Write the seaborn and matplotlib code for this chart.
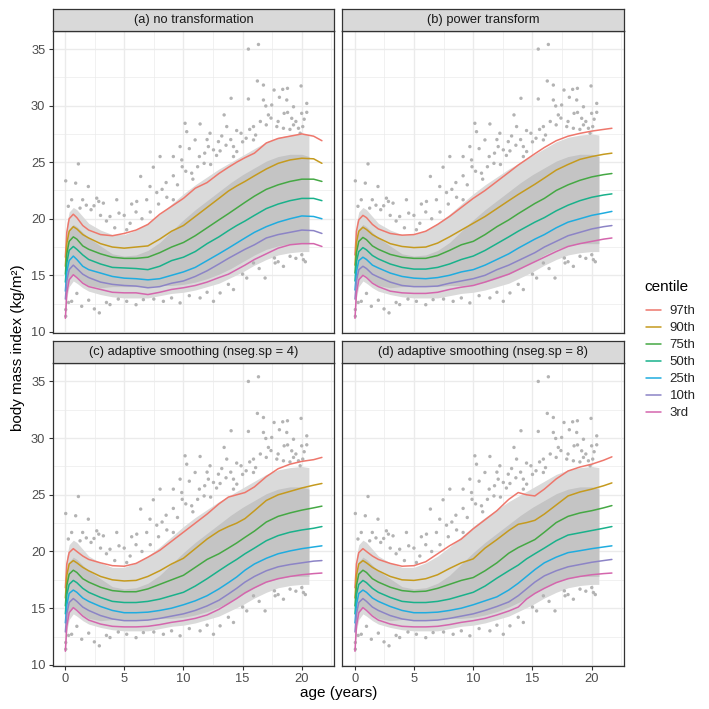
import numpy as np
import pandas as pd
import matplotlib
matplotlib.use('Agg')
import matplotlib.pyplot as plt
import seaborn as sns

ages = [0.03, 0.15, 0.35, 0.7, 1, 1.5, 2, 3, 4, 5, 6, 7, 8, 9, 10, 11, 12, 13,
        13.8, 14.5, 15.2, 16, 17, 18, 19, 20, 21, 21.7]

centiles = ['97th', '90th', '75th', '50th', '25th', '10th', '3rd']
colors = ['#EE776C', '#C59A1E', '#45A844', '#19B18B', '#1FACDF', '#8C84C6', '#D466AD']

panel_titles = ['(a) no transformation', '(b) power transform',
                '(c) adaptive smoothing (nseg.sp = 4)', '(d) adaptive smoothing (nseg.sp = 8)']

# (a) no transformation
c97_a = [16.6, 18.8, 20.0, 20.4, 20.1, 19.4, 19.0, 18.6, 18.5, 18.7, 19.0, 19.5, 20.4, 21.1, 21.8, 22.7, 23.2, 24.0, 24.55, 25.0, 25.4, 25.8, 26.7, 27.1, 27.3, 27.5, 27.3, 26.9]
c90_a = [15.8, 17.8, 18.9, 19.3, 19.1, 18.6, 18.3, 17.8, 17.5, 17.4, 17.5, 17.6, 18.2, 18.9, 19.4, 20.2, 21.0, 21.8, 22.45, 22.9, 23.3, 23.8, 24.4, 24.9, 25.2, 25.35, 25.3, 24.9]
c75_a = [15.1, 16.9, 18.0, 18.4, 18.2, 17.6, 17.3, 16.9, 16.6, 16.5, 16.5, 16.6, 17.0, 17.5, 17.9, 18.5, 19.2, 19.9, 20.45, 20.95, 21.45, 22.0, 22.6, 23.0, 23.3, 23.5, 23.5, 23.3]
c50_a = [14.4, 16.1, 17.2, 17.55, 17.3, 16.8, 16.4, 16.0, 15.7, 15.65, 15.6, 15.5, 15.8, 16.3, 16.6, 17.1, 17.8, 18.4, 18.95, 19.4, 19.8, 20.3, 20.9, 21.3, 21.6, 21.8, 21.8, 21.6]
c25_a = [13.6, 15.3, 16.3, 16.7, 16.4, 15.8, 15.5, 15.2, 14.9, 14.75, 14.7, 14.6, 14.7, 15.0, 15.3, 15.7, 16.3, 16.9, 17.4, 17.85, 18.3, 18.8, 19.3, 19.7, 20.0, 20.25, 20.2, 20.0]
c10_a = [12.9, 14.5, 15.5, 15.9, 15.6, 15.1, 14.8, 14.4, 14.2, 14.1, 14.05, 13.9, 14.0, 14.3, 14.5, 14.9, 15.4, 16.0, 16.5, 16.9, 17.3, 17.7, 18.3, 18.6, 18.8, 19.0, 18.95, 18.7]
c3_a = [11.2, 13.4, 14.6, 15.05, 14.8, 14.3, 14.0, 13.75, 13.5, 13.45, 13.45, 13.3, 13.5, 13.75, 13.9, 14.1, 14.4, 14.8, 15.1, 15.5, 15.9, 16.4, 16.9, 17.4, 17.7, 17.8, 17.8, 17.55]

# (b) power transform
c97_b = [16.8, 18.9, 19.9, 20.3, 20.1, 19.5, 19.1, 18.7, 18.55, 18.6, 18.9, 19.5, 20.2, 21.0, 21.8, 22.5, 23.3, 24.1, 24.75, 25.25, 25.75, 26.3, 26.9, 27.3, 27.55, 27.75, 27.9, 28.0]
c90_b = [15.9, 17.9, 18.9, 19.25, 19.05, 18.6, 18.3, 17.8, 17.55, 17.45, 17.5, 17.85, 18.4, 19.0, 19.6, 20.2, 20.9, 21.6, 22.15, 22.6, 23.05, 23.6, 24.3, 24.8, 25.25, 25.5, 25.7, 25.8]
c75_b = [15.2, 17.0, 18.0, 18.35, 18.15, 17.6, 17.3, 16.85, 16.6, 16.5, 16.5, 16.75, 17.2, 17.7, 18.0, 18.6, 19.3, 19.9, 20.45, 20.9, 21.35, 21.8, 22.5, 23.0, 23.4, 23.7, 23.9, 24.0]
c50_b = [14.5, 16.2, 17.1, 17.45, 17.25, 16.75, 16.45, 16.0, 15.7, 15.55, 15.55, 15.7, 16.0, 16.4, 16.7, 17.2, 17.8, 18.4, 18.9, 19.3, 19.7, 20.1, 20.7, 21.2, 21.6, 21.9, 22.1, 22.2]
c25_b = [13.7, 15.3, 16.3, 16.6, 16.4, 15.9, 15.65, 15.2, 14.9, 14.75, 14.7, 14.8, 15.0, 15.3, 15.5, 15.9, 16.4, 16.9, 17.4, 17.8, 18.2, 18.6, 19.2, 19.7, 20.0, 20.3, 20.5, 20.65]
c10_b = [12.9, 14.5, 15.5, 15.8, 15.6, 15.1, 14.85, 14.4, 14.1, 14.0, 14.0, 14.05, 14.3, 14.5, 14.7, 15.0, 15.5, 15.9, 16.3, 16.65, 17.0, 17.5, 18.0, 18.5, 18.8, 19.1, 19.3, 19.4]
c3_b = [11.2, 13.4, 14.6, 15.0, 14.8, 14.3, 14.0, 13.6, 13.45, 13.4, 13.4, 13.5, 13.75, 13.95, 14.1, 14.4, 14.75, 15.1, 15.5, 15.85, 16.2, 16.6, 17.1, 17.55, 17.8, 18.0, 18.2, 18.3]

# (c) adaptive smoothing, nseg.sp = 4
c97_c = [16.8, 18.9, 19.9, 20.25, 20.0, 19.6, 19.3, 19.0, 18.75, 18.7, 18.95, 19.5, 20.1, 20.9, 21.7, 22.5, 23.3, 24.2, 24.8, 25.0, 25.2, 25.7, 26.6, 27.3, 27.7, 27.95, 28.1, 28.3]
c90_c = [15.9, 17.9, 18.9, 19.2, 19.0, 18.6, 18.3, 17.8, 17.5, 17.4, 17.45, 17.8, 18.3, 18.9, 19.4, 20.25, 21.1, 21.8, 22.2, 22.5, 22.9, 23.6, 24.5, 25.0, 25.3, 25.6, 25.85, 26.0]
c75_c = [15.2, 17.0, 18.0, 18.35, 18.15, 17.6, 17.3, 16.85, 16.55, 16.45, 16.45, 16.7, 17.1, 17.5, 17.9, 18.6, 19.3, 19.8, 20.3, 20.75, 21.25, 21.8, 22.6, 23.1, 23.4, 23.65, 23.85, 24.0]
c50_c = [14.5, 16.2, 17.1, 17.45, 17.25, 16.75, 16.4, 15.95, 15.6, 15.5, 15.5, 15.6, 15.8, 16.1, 16.4, 16.95, 17.6, 18.3, 18.85, 19.3, 19.8, 20.3, 20.95, 21.4, 21.7, 21.9, 22.05, 22.2]
c25_c = [13.7, 15.3, 16.3, 16.6, 16.4, 15.9, 15.6, 15.15, 14.8, 14.6, 14.6, 14.65, 14.8, 15.0, 15.3, 15.65, 16.1, 16.7, 17.25, 17.75, 18.35, 18.9, 19.4, 19.8, 20.05, 20.25, 20.4, 20.5]
c10_c = [12.9, 14.5, 15.5, 15.85, 15.6, 15.1, 14.8, 14.35, 14.05, 13.9, 13.9, 13.95, 14.1, 14.3, 14.5, 14.8, 15.2, 15.7, 16.25, 16.75, 17.3, 17.8, 18.3, 18.65, 18.85, 19.0, 19.15, 19.2]
c3_c = [11.2, 13.4, 14.6, 15.05, 14.8, 14.3, 13.95, 13.6, 13.4, 13.35, 13.35, 13.4, 13.55, 13.75, 13.9, 14.1, 14.4, 14.9, 15.4, 15.85, 16.35, 16.8, 17.3, 17.6, 17.8, 17.95, 18.05, 18.1]

# (d) adaptive smoothing, nseg.sp = 8
c97_d = [16.8, 18.9, 19.9, 20.25, 20.0, 19.6, 19.3, 18.95, 18.7, 18.75, 19.1, 19.8, 20.5, 21.1, 22.0, 22.8, 23.6, 24.6, 25.2, 25.0, 24.9, 25.5, 26.4, 27.1, 27.45, 27.7, 28.05, 28.35]
c90_d = [15.9, 17.9, 18.9, 19.2, 19.0, 18.6, 18.3, 17.8, 17.5, 17.45, 17.6, 17.95, 18.5, 19.0, 19.35, 20.3, 21.05, 21.85, 22.4, 22.55, 22.75, 23.3, 24.1, 24.9, 25.25, 25.5, 25.8, 26.05]
c75_d = [15.2, 17.0, 18.0, 18.35, 18.15, 17.6, 17.3, 16.85, 16.55, 16.45, 16.5, 16.75, 17.1, 17.45, 17.7, 18.3, 19.0, 19.85, 20.35, 20.7, 21.05, 21.7, 22.55, 23.1, 23.4, 23.6, 23.85, 24.05]
c50_d = [14.5, 16.2, 17.1, 17.45, 17.25, 16.75, 16.4, 15.95, 15.6, 15.5, 15.5, 15.6, 15.8, 16.1, 16.4, 16.95, 17.65, 18.3, 18.8, 19.35, 19.8, 20.3, 20.95, 21.45, 21.65, 21.85, 22.05, 22.2]
c25_d = [13.7, 15.3, 16.3, 16.6, 16.4, 15.9, 15.6, 15.15, 14.8, 14.6, 14.6, 14.65, 14.8, 15.0, 15.3, 15.65, 16.0, 16.6, 17.2, 17.8, 18.4, 19.0, 19.5, 19.9, 20.07, 20.25, 20.4, 20.5]
c10_d = [12.9, 14.5, 15.5, 15.85, 15.6, 15.1, 14.8, 14.35, 14.05, 13.9, 13.9, 13.95, 14.1, 14.3, 14.5, 14.8, 15.15, 15.55, 16.1, 16.7, 17.3, 17.85, 18.3, 18.65, 18.85, 19.05, 19.2, 19.3]
c3_d = [11.2, 13.4, 14.6, 15.05, 14.8, 14.3, 13.95, 13.6, 13.4, 13.35, 13.35, 13.4, 13.55, 13.75, 13.9, 14.1, 14.4, 14.75, 15.1, 15.8, 16.3, 16.75, 17.25, 17.6, 17.8, 17.95, 18.05, 18.1]

panel_curves = [
    [c97_a, c90_a, c75_a, c50_a, c25_a, c10_a, c3_a],
    [c97_b, c90_b, c75_b, c50_b, c25_b, c10_b, c3_b],
    [c97_c, c90_c, c75_c, c50_c, c25_c, c10_c, c3_c],
    [c97_d, c90_d, c75_d, c50_d, c25_d, c10_d, c3_d],
]

# the grey data cloud (same data in every panel): outer envelope and dense core
cloud_age = [0.03, 0.15, 0.35, 0.7, 1, 1.5, 2, 3, 4, 5, 6, 7, 8, 9, 10, 11, 12, 13,
             14, 15, 16, 17, 18, 19, 20, 20.6]
cloud_hi = [17.0, 19.6, 20.6, 21.0, 20.8, 20.2, 19.6, 19.0, 18.6, 18.6, 19.0, 19.6, 20.4, 21.3, 22.2, 23.0, 23.7, 24.4,
            25.0, 25.6, 26.2, 26.8, 27.2, 27.4, 27.5, 27.4]
cloud_lo = [11.3, 13.0, 14.0, 14.5, 14.3, 13.9, 13.6, 13.3, 13.1, 13.0, 13.0, 13.0, 13.2, 13.4, 13.5, 13.7, 14.0, 14.3,
            14.8, 15.3, 15.9, 16.4, 16.8, 17.0, 17.1, 17.1]
core_hi = [16.0, 18.1, 19.1, 19.5, 19.3, 18.8, 18.3, 17.6, 16.9, 16.7, 16.8, 17.2, 17.9, 18.9, 19.9, 20.8, 21.6, 22.4,
           23.2, 23.9, 24.5, 25.1, 25.5, 25.7, 25.7, 25.5]
core_lo = [11.5, 13.6, 14.7, 15.1, 14.9, 14.4, 14.1, 13.9, 14.0, 14.0, 14.0, 14.0, 14.1, 14.1, 14.2, 14.4, 14.7, 15.1,
           15.6, 16.2, 16.8, 17.3, 17.6, 17.8, 17.8, 17.8]

# scattered points outside the dense cloud
out_age = [16.34, 15.49, 16.25, 16.76, 19.94, 17.66, 18.39, 18.79, 18.11, 14.03, 15.49, 20.42, 16.96, 17.18, 13.44,
           18.51, 19.15, 19.99, 20.42, 10.14, 11.41, 9.72, 12.11, 12.96, 13.24, 14.23, 14.87, 15.3, 15.92, 17.89,
           19.3, 19.72, 20.08, 1.13, 0.9, 0.06, 7.46, 6.39, 7.75, 8.54, 6.06, 2.68, 2.85, 2.45, 4.56, 1.49, 0.56,
           0.28, 1.27, 5.21, 9.15, 10.7, 11.35, 11.75, 12.54, 14.23, 15.92, 2.48, 2.9, 0.06, 0.06, 1.41, 0.56, 3.8,
           5.21, 6.62, 8.31, 9.72, 11.41, 12.54, 13.1, 14.23, 15.35, 16.9, 15.92, 17.75, 17.69, 20.0, 20.14, 19.01,
           18.45, 10.28, 10.99, 12.25, 13.66, 14.51, 16.76, 17.46, 18.73, 19.3, 18.45, 19.86, 9.15, 8.03, 7.18, 6.9,
           3.8, 3.24, 1.97, 4.37, 5.63, 9.15, 9.86,
           9.5, 10.2, 10.8, 11.2, 11.8, 12.3, 12.8, 13.1, 13.6, 14.0, 14.5, 15.0, 15.6, 16.1, 16.5, 17.0, 17.4, 18.0,
           18.8, 19.5, 20.2, 19.0, 12.0, 10.5, 9.9,
           3.5, 4.2, 5.5, 6.5, 7.2, 7.9, 8.6, 5.0, 6.0, 8.2, 3.0, 2.2, 1.8,
           3.5, 4.5, 6.0, 7.5, 9.0, 10.5, 12.0, 13.8, 15.0, 16.4, 18.0, 19.5, 20.3, 1.0, 2.0, 0.3]
out_bmi = [35.41, 35.0, 32.18, 31.82, 31.74, 31.38, 31.44, 31.53, 30.74, 30.65, 30.59, 30.2, 29.97, 29.18, 29.18,
           29.32, 28.88, 29.32, 29.41, 28.44, 28.38, 26.38, 26.38, 26.82, 27.32, 26.38, 27.56, 27.12, 28.15, 28.15,
           28.3, 28.0, 28.15, 24.85, 23.15, 23.35, 24.56, 23.74, 22.32, 23.2, 21.53, 21.82, 21.53, 21.15, 20.5, 21.68,
           21.68, 21.1, 20.94, 19.03, 23.8, 24.03, 25.5, 24.9, 26.09, 25.5, 26.97, 12.03, 11.68, 11.38, 11.97, 12.26,
           12.7, 12.41, 12.7, 12.85, 12.7, 12.56, 13.0, 12.7, 13.44, 13.74, 14.76, 14.76, 16.09, 16.09, 16.53, 16.82,
           16.38, 16.68, 15.79, 27.7, 26.97, 27.56, 28.15, 25.94, 30.5, 30.06, 30.5, 29.9, 28.0, 27.56, 25.5, 25.5,
           22.85, 21.68, 20.2, 21.38, 22.85, 21.68, 21.3, 21.68, 25.2,
           23.0, 24.2, 23.5, 24.6, 25.8, 24.8, 25.6, 26.0, 26.5, 27.0, 27.8, 26.8, 27.9, 27.4, 28.6, 28.3, 28.9, 28.6,
           29.4, 28.6, 28.8, 27.9, 27.0, 26.2, 24.6,
           19.8, 19.2, 19.6, 20.0, 20.6, 21.3, 21.9, 20.3, 20.6, 22.6, 20.3, 20.8, 21.2,
           12.6, 12.9, 12.4, 12.9, 13.0, 13.2, 13.5, 14.2, 15.1, 15.6, 16.2, 16.5, 16.2, 13.4, 12.8, 12.6]

sns.set_style('white')
plt.rcParams['font.family'] = ['Liberation Sans', 'DejaVu Sans']

W = 709.0
fig = plt.figure(figsize=(7.09, 7.09), dpi=100)


def frac(x0, y0, x1, y1):
    # pixel box (top-left origin) -> figure fraction rect
    return [x0 / W, 1 - y1 / W, (x1 - x0) / W, (y1 - y0) / W]


cols = [(52.7, 334.0), (342.3, 624.0)]
rows = [(31.0, 333.0), (363.3, 666.0)]
strip_h = 22.5

for k in range(4):
    r, c = divmod(k, 2)
    x0, x1 = cols[c]
    y0, y1 = rows[r]

    ax = fig.add_axes(frac(x0, y0, x1, y1))
    ax.fill_between(cloud_age, cloud_lo, cloud_hi, color='#DADADA', lw=0, zorder=1)
    ax.fill_between(cloud_age, core_lo, core_hi, color='#C4C4C4', lw=0, zorder=1)
    sns.scatterplot(x=out_age, y=out_bmi, ax=ax, color='#B3B3B3', s=6, edgecolor='none', linewidth=0, zorder=2)

    recs = []
    for name, vals in zip(centiles, panel_curves[k]):
        for a, v in zip(ages, vals):
            recs.append((name, a, v))
    dfp = pd.DataFrame(recs, columns=['centile', 'age', 'bmi'])
    sns.lineplot(data=dfp, x='age', y='bmi', hue='centile', hue_order=centiles, palette=colors,
                 estimator=None, sort=False, lw=1.1, ax=ax, legend=False, zorder=3)

    ax.set_xlim(-1.04, 22.72)
    ax.set_ylim(9.9, 36.6)
    ax.set_xticks([0, 5, 10, 15, 20])
    ax.set_xticks([2.5, 7.5, 12.5, 17.5, 22.5], minor=True)
    ax.set_yticks([10, 15, 20, 25, 30, 35])
    ax.set_yticks([12.5, 17.5, 22.5, 27.5, 32.5], minor=True)
    ax.grid(which='major', color='#EBEBEB', lw=1.0)
    ax.grid(which='minor', color='#EBEBEB', lw=0.5)
    ax.set_axisbelow(True)
    ax.set_xlabel('')
    ax.set_ylabel('')
    for sp in ax.spines.values():
        sp.set_visible(True)
        sp.set_color('#333333')
        sp.set_linewidth(0.9)
    ax.tick_params(which='minor', length=0)
    ax.tick_params(which='major', length=2.75, width=0.8, color='#333333',
                   labelsize=9.3, labelcolor='#4D4D4D', pad=2.5)
    ax.tick_params(bottom=(r == 1), labelbottom=(r == 1), left=(c == 0), labelleft=(c == 0))

    sax = fig.add_axes(frac(x0, y0 - strip_h, x1, y0))
    sax.set_facecolor('#D9D9D9')
    sax.set_xticks([])
    sax.set_yticks([])
    for sp in sax.spines.values():
        sp.set_visible(True)
        sp.set_color('#333333')
        sp.set_linewidth(0.9)
    sax.text(0.5, 0.5, panel_titles[k], ha='center', va='center', fontsize=9.3,
             color='#1A1A1A', transform=sax.transAxes)

fig.text(338.4 / W, 1 - 693 / W, 'age (years)', ha='center', va='center', fontsize=11, color='black')
fig.text(18 / W, 1 - 347.5 / W, 'body mass index (kg/m²)', ha='center', va='center',
         rotation=90, fontsize=11, color='black')

# legend: title placed separately to get the ggplot spacing
fig.text(644 / W, 1 - 287 / W, 'centile', ha='left', va='center', fontsize=11, color='black')
handles = [plt.Line2D([], [], color=col, lw=1.1) for col in colors]
leg = fig.legend(handles, centiles, loc='upper left', bbox_to_anchor=(646 / W, 1 - 305 / W),
                 frameon=False, fontsize=9.5, handlelength=1.1, handletextpad=0.7,
                 labelspacing=0.36, borderpad=0, borderaxespad=0)

fig.savefig('out.png', dpi=100)
